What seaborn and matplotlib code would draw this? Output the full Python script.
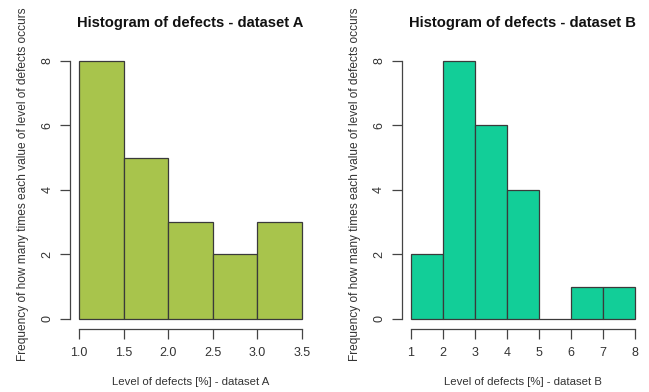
import numpy as np
import pandas as pd
import matplotlib
matplotlib.use("Agg")
import matplotlib.pyplot as plt
import seaborn as sns

# Data
edges_a = [1.0, 1.5, 2.0, 2.5, 3.0, 3.5]
counts_a = [8, 5, 3, 2, 3]
edges_b = [1, 2, 3, 4, 5, 6, 7, 8]
counts_b = [2, 8, 6, 4, 0, 1, 1]
xticks_a = [1.0, 1.5, 2.0, 2.5, 3.0, 3.5]
xtick_labels_a = ["1.0", "1.5", "2.0", "2.5", "3.0", "3.5"]
xticks_b = [1, 2, 3, 4, 5, 6, 7, 8]
yticks = [0, 2, 4, 6, 8]
title_a = "Histogram of defects - dataset A"
title_b = "Histogram of defects - dataset B"
xlabel_a = "Level of defects [%] - dataset A"
xlabel_b = "Level of defects [%] - dataset B"
ylabel = "Frequency of how many times each value of level of defects occurs"
color_a = "#a8c44c"
color_b = "#12ce98"

sns.set_style("white")
plt.rcParams["font.family"] = ["Liberation Sans", "DejaVu Sans"]

fig = plt.figure(figsize=(6.49, 3.92), dpi=100)
ax_a = fig.add_axes([0.108, 0.160, 0.371, 0.711])
ax_b = fig.add_axes([0.619, 0.160, 0.373, 0.711])

textc = "#333333"
edgec = "#3a3a3a"

def draw(ax, edges, counts, color, xticks, xticklabels, title, xlabel):
    centers = [(edges[i] + edges[i + 1]) / 2 for i in range(len(counts))]
    df = pd.DataFrame({"x": centers, "w": counts})
    sns.histplot(data=df, x="x", weights="w", bins=edges, ax=ax,
                 color=color, alpha=1, edgecolor=edgec, linewidth=0.9)
    span = edges[-1] - edges[0]
    ax.set_xlim(edges[0] - 0.04 * span, edges[-1] + 0.04 * span)
    ax.set_ylim(-0.32, 8.32)
    for s in ["top", "right"]:
        ax.spines[s].set_visible(False)
    for s in ["left", "bottom"]:
        ax.spines[s].set_color("#444444")
        ax.spines[s].set_linewidth(0.9)
    ax.spines["left"].set_bounds(0, 8)
    ax.spines["bottom"].set_bounds(xticks[0], xticks[-1])
    ax.set_xticks(xticks)
    ax.set_xticklabels(xticklabels)
    ax.set_yticks(yticks)
    ax.tick_params(axis="both", direction="out", length=7, width=0.9,
                   color="#444444", labelcolor=textc, labelsize=9, left=True, bottom=True)
    for lab in ax.get_yticklabels():
        lab.set_rotation(90)
        lab.set_va("center")
    ax.tick_params(axis="y", pad=5)
    ax.tick_params(axis="x", pad=6)
    ax.set_title(title, fontsize=10.6, fontweight="bold", color="#111111", pad=17)
    ax.set_xlabel(xlabel, fontsize=8.2, color=textc, labelpad=13)
    ax.set_ylabel(ylabel, fontsize=8.6, color=textc, labelpad=9)
    ax.yaxis.label.set_y(0.52)
    ax.grid(False)

draw(ax_a, edges_a, counts_a, color_a, xticks_a, xtick_labels_a, title_a, xlabel_a)
draw(ax_b, edges_b, counts_b, color_b, xticks_b, [str(v) for v in xticks_b], title_b, xlabel_b)

fig.savefig("out.png", dpi=100)
